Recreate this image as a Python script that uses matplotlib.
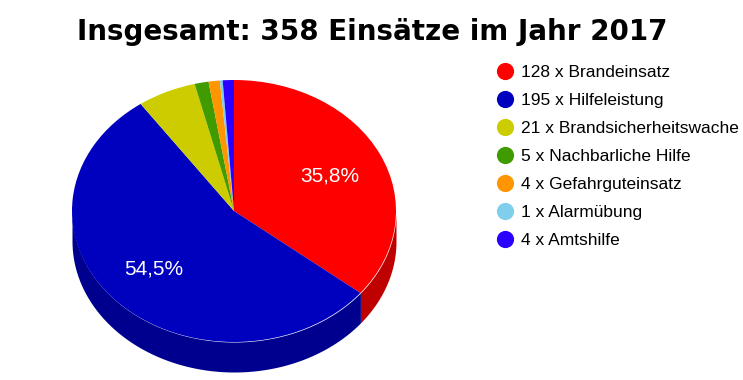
import numpy as np
import matplotlib
matplotlib.use("Agg")
import matplotlib.pyplot as plt
from matplotlib.lines import Line2D

names = ["Brandeinsatz", "Hilfeleistung", "Brandsicherheitswache", "Nachbarliche Hilfe",
         "Gefahrguteinsatz", "Alarmübung", "Amtshilfe"]
counts = [128, 195, 21, 5, 4, 1, 4]
colors = ["#ff0000", "#0000bf", "#cccc00", "#3f9b00", "#ff9500", "#7fcfec", "#2a00ff"]
side_colors = ["#bf0000", "#00008f", "#999900", "#2f7400", "#bf7000", "#5f9bb1", "#2000bf"]
title = "Insgesamt: 358 Einsätze im Jahr 2017"

W, H = 743, 380
CX, CY, RX, RY = 234, 211, 162, 131
DEPTH = 30 / RY


def pct_label(pct):
    # only the two big slices get a label
    return f"{pct:.1f}%".replace(".", ",") if pct > 10 else ""


fig = plt.figure(figsize=(W / 100, H / 100), dpi=100)
ax = fig.add_axes([(CX - RX) / W, 1 - (CY + RY + 30) / H, 2 * RX / W, (2 * RY + 30) / H])

wedges, _, autotexts = ax.pie(counts, colors=colors, startangle=90, counterclock=False, radius=1,
                              autopct=pct_label, pctdistance=0.64,
                              wedgeprops=dict(linewidth=0, zorder=3),
                              textprops=dict(color="white", family="Liberation Sans", fontsize=15))
for t in autotexts:
    t.set_zorder(5)
# small nudge of the two labels, in pixels
for t, (dx, dy) in zip(autotexts[:2], [(2, -1), (-5, -1)]):
    x0, y0 = t.get_position()
    t.set_position((x0 + dx / RX, y0 + dy / RY))
ax.set_aspect("auto")
ax.set_xlim(-1, 1)
ax.set_ylim(-1 - DEPTH, 1)

# side wall of the cylinder, only the front half is visible
edges = np.cumsum([0] + counts) / sum(counts) * 2 * np.pi
for start, stop, c in zip(edges[:-1], edges[1:], side_colors):
    a = max(start, np.pi / 2)
    b = min(stop, 3 * np.pi / 2)
    if b <= a:
        continue
    th = np.linspace(a, b, 200)
    x = np.sin(th)
    y = np.cos(th)
    ax.fill_between(x, y, y - DEPTH, color=c, linewidth=0, zorder=1)

fig.text(372 / W, 1 - 32 / H, title, ha="center", va="center", fontsize=20,
         fontweight="bold", family="DejaVu Sans", color="black")

handles = [Line2D([0], [0], linestyle="", marker="o", markersize=12.4, markeredgewidth=0, color=c,
                  label=f"{n} x {name}") for n, name, c in zip(counts, names, colors)]
fig.legend(handles=handles, loc="upper left", bbox_to_anchor=(496.3 / W, 1 - 65 / H), frameon=False,
           prop=dict(family="Liberation Sans", size=12.5), labelspacing=0.743,
           handlelength=1.0, handletextpad=0.42, borderpad=0, borderaxespad=0)

fig.savefig("out.png", dpi=100)
